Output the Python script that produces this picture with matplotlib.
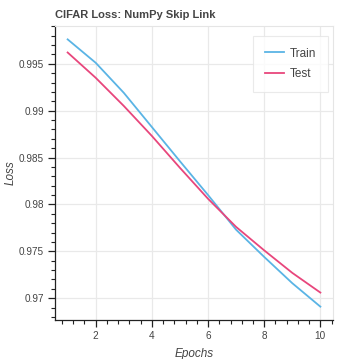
import matplotlib.pyplot as plt
from matplotlib.ticker import MultipleLocator, AutoMinorLocator

plt.rcParams['font.family'] = ['Liberation Sans', 'DejaVu Sans']

# values
epochs = [1, 2, 3, 4, 5, 6, 7, 8, 9, 10]
train_loss = [0.9976, 0.9951, 0.9919, 0.98825, 0.9846, 0.9810, 0.9773, 0.9744, 0.9716, 0.9691]
test_loss = [0.9962, 0.9935, 0.9905, 0.9873, 0.9839, 0.9806, 0.9776, 0.9751, 0.9727, 0.9706]

fig = plt.figure(figsize=(3.59, 3.59), dpi=100)
ax = fig.add_axes([55 / 359, 39 / 359, 278 / 359, 294 / 359])

ax.plot(epochs, train_loss, color='#5ab4e5', lw=1.3, label='Train')
ax.plot(epochs, test_loss, color='#e8467c', lw=1.3, label='Test')

# bokeh-like 5% range padding
lo, hi = min(train_loss + test_loss), max(train_loss + test_loss)
pad = (hi - lo) * 0.05
ax.set_ylim(lo - pad, hi + pad)
ax.set_xlim(0.55, 10.45)

ax.xaxis.set_major_locator(MultipleLocator(2))
ax.xaxis.set_minor_locator(AutoMinorLocator(5))
ax.yaxis.set_major_locator(MultipleLocator(0.005))
ax.yaxis.set_minor_locator(AutoMinorLocator(5))
ax.yaxis.set_major_formatter(plt.FuncFormatter(lambda v, p: f'{v:g}'))

ax.grid(True, which='major', color='#e9e9e9', lw=0.9)
ax.set_axisbelow(True)
for s in ['top', 'right']:
    ax.spines[s].set_color('#e5e5e5')
    ax.spines[s].set_linewidth(0.8)
for s in ['left', 'bottom']:
    ax.spines[s].set_color('#222222')
    ax.spines[s].set_linewidth(0.9)

ax.tick_params(which='major', direction='out', length=5, width=0.9, color='#222222',
               labelsize=7.2, labelcolor='#444444', pad=3)
ax.tick_params(which='minor', direction='out', length=3, width=0.8, color='#222222')

ax.set_xlabel('Epochs', style='italic', fontsize=8.5, color='#444444', labelpad=5)
ax.set_ylabel('Loss', style='italic', fontsize=8.5, color='#444444', va='center')
ax.yaxis.set_label_coords(-44 / 278, 0.5)
ax.set_title('CIFAR Loss: NumPy Skip Link', loc='left', fontsize=8, fontweight='bold',
             color='#444444', pad=6, x=0.0)

leg = ax.legend(loc='upper right', bbox_to_anchor=(0.99, 0.975), fontsize=8.5,
                frameon=True, fancybox=False, handlelength=1.6, handletextpad=0.5,
                borderpad=1.0, labelspacing=0.75, borderaxespad=0.2)
leg.get_frame().set_edgecolor('#e5e5e5')
leg.get_frame().set_linewidth(0.8)
for t in leg.get_texts():
    t.set_color('#444444')

fig.savefig('out.png', dpi=100)
